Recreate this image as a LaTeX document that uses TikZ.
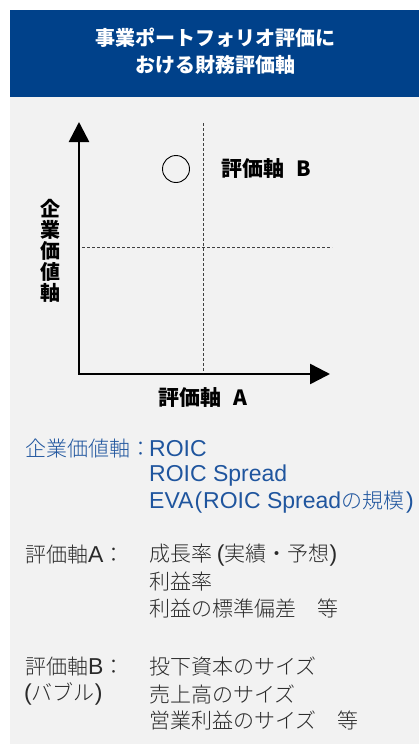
\documentclass[tikz,border=0pt]{standalone}
\usepackage{fontspec}
\setmainfont{Noto Sans CJK JP}
\newfontfamily\jplight{Noto Sans CJK JP Light}
\newfontfamily\lat{Liberation Sans}
\usetikzlibrary{arrows.meta}
\definecolor{hdrblue}{HTML}{00418A}
\definecolor{txtblue}{HTML}{1F559E}
\definecolor{bggray}{HTML}{F2F2F2}
\definecolor{txtgray}{HTML}{2A2A2A}
\newcommand{\Lt}[1]{{\lat\fontsize{23}{26}\selectfont #1}}
\begin{document}
\begin{tikzpicture}[x=1pt,y=-1pt,
  hdr/.style={text=white,font=\bfseries\fontsize{20}{24}\selectfont,inner sep=0pt},
  axlabel/.style={text=black,font=\bfseries\fontsize{21}{22}\selectfont,inner sep=0pt},
  body/.style={anchor=west,inner sep=0pt,font=\jplight\fontsize{21}{26}\selectfont,text=txtgray},
  bodyblue/.style={body,text=txtblue},
  axisline/.style={line width=2.6pt,{Triangle[length=20pt,width=20pt]}-{Triangle[length=20pt,width=20pt]}},
  guide/.style={line width=0.8pt,draw=black!75,dash pattern=on 3pt off 2pt}]
\useasboundingbox (0,0) rectangle (419,744);
% backgrounds
\fill[bggray] (10,97) rectangle (419,744);
\fill[hdrblue] (10,10) rectangle (419,97);
\node[hdr] (h1) at (215,38) {事業ポートフォリオ評価に};
\node[hdr] (h2) at (215,64.5) {おける財務評価軸};
% axes
\coordinate (o) at (79,374);
\coordinate (ytip) at (79,122);
\coordinate (xtip) at (330,374);
\draw[axisline] (ytip) -- (o) -- (xtip);
% guides
\coordinate (vtop) at (203,123);
\coordinate (vbot) at (203,373);
\coordinate (hl) at (82,247);
\coordinate (hr) at (332,247);
\draw[guide] (vtop) -- (vbot);
\draw[guide] (hl) -- (hr);
% bubble
\node[circle,draw=black,line width=0.9pt,minimum size=27pt,inner sep=0pt] (bub) at (176,169) {};
\node[axlabel,anchor=west] (labB) at (221,169) {評価軸\hspace{12pt}B};
\node[axlabel] (labA) at (203,398) {評価軸\hspace{12pt}A};
\node[axlabel,align=center,font=\bfseries\fontsize{20}{21}\selectfont] (labY) at (50,250.5) {企\\業\\価\\値\\軸};
% text section
\node[bodyblue] (t0) at (25,449) {企業価値軸：};
\node[bodyblue] (t1) at (149,449) {\Lt{ROIC}};
\node[bodyblue] (t2) at (149,476) {\Lt{ROIC Spread}};
\node[bodyblue] (t3) at (149,502) {\Lt{EVA\hspace{1pt}(\hspace{1pt}ROIC Spread}の規模\hspace{2pt}\Lt{)}};
\node[body] (a0) at (25,555) {評価軸\Lt{A}：};
\node[body] (a1) at (149,555) {成長率 \Lt{(}実績・予想\Lt{)}};
\node[body] (a2) at (149,582) {利益率};
\node[body] (a3) at (149,608) {利益の標準偏差　等};
\node[body] (b0) at (25,667) {評価軸\Lt{B}：};
\node[body] (b0b) at (24,694) {\Lt{(}バブル\Lt{)}};
\node[body] (b1) at (149,667) {投下資本のサイズ};
\node[body] (b2) at (149,694) {売上高のサイズ};
\node[body] (b3) at (149,720) {営業利益のサイズ　等};
\end{tikzpicture}
\end{document}
